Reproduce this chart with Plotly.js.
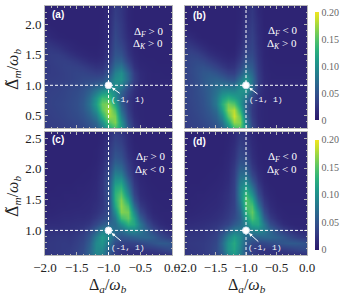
<!DOCTYPE html>
<html><head><meta charset="utf-8">
<script src="https://cdn.plot.ly/plotly-3.0.1.min.js"></script>
<style>html,body{margin:0;padding:0;background:#fff}#chart{width:348px;height:302px}</style>
</head><body><div id="chart"></div>
<script>
// grid coordinates
const xGrid = [-2.0,-1.9,-1.8,-1.7,-1.6,-1.5,-1.4,-1.3,-1.2,-1.1,-1.0,-0.9,-0.8,-0.7,-0.6,-0.5,-0.4,-0.3,-0.2,-0.1,0.0];
const yGridTop = [0.3,0.4,0.5,0.6,0.7,0.8,0.9,1.0,1.1,1.2,1.3,1.4,1.5,1.6,1.7,1.8,1.9,2.0,2.1,2.2,2.3];
const yGridBottom = [0.6,0.7,0.8,0.9,1.0,1.1,1.2,1.3,1.4,1.5,1.6,1.7,1.8,1.9,2.0,2.1,2.2,2.3,2.4,2.5,2.6];

// tick labels
const xTickVals = [-2,-1.5,-1,-0.5,0];
const xTickText = ['\u22122.0','\u22121.5','\u22121.0','\u22120.5','0.0'];
const yTickValsTop = [0.5,1.0,1.5,2.0];
const yTickTextTop = ['0.5','1.0','1.5','2.0'];
const yTickValsBottom = [1.0,1.5,2.0,2.5];
const yTickTextBottom = ['1.0','1.5','2.0','2.5'];
const cbTickVals = [0,0.05,0.10,0.15,0.20];
const cbTickText = ['0','0.05','0.10','0.15','0.20'];

// special point
const pointX = [-1];
const pointY = [1];

// panel (a): rows y = 0.3 ... 2.3
const zA = [
[.030,.031,.032,.033,.035,.037,.040,.046,.056,.078,.120,.145,.110,.055,.026,.016,.013,.012,.012,.012,.012],
[.031,.032,.033,.035,.037,.040,.044,.052,.066,.100,.150,.165,.105,.046,.021,.014,.012,.012,.012,.012,.012],
[.032,.033,.035,.037,.040,.043,.049,.060,.082,.128,.175,.162,.088,.037,.018,.013,.012,.012,.012,.012,.012],
[.033,.034,.036,.038,.041,.045,.053,.068,.100,.150,.180,.145,.072,.031,.016,.013,.012,.012,.012,.012,.012],
[.034,.035,.037,.039,.042,.046,.055,.074,.112,.158,.165,.120,.060,.028,.016,.013,.012,.012,.012,.012,.012],
[.034,.035,.036,.038,.041,.045,.053,.070,.105,.140,.138,.100,.056,.028,.017,.013,.012,.012,.012,.012,.012],
[.033,.034,.035,.037,.040,.043,.049,.060,.080,.100,.112,.095,.066,.036,.020,.014,.012,.012,.012,.012,.012],
[.032,.033,.034,.036,.038,.040,.044,.050,.058,.068,.085,.098,.088,.052,.026,.016,.013,.012,.012,.012,.012],
[.031,.031,.032,.033,.035,.038,.041,.042,.043,.047,.068,.098,.105,.068,.032,.018,.013,.012,.012,.012,.012],
[.029,.030,.031,.033,.035,.037,.037,.035,.032,.033,.052,.088,.100,.064,.030,.017,.013,.012,.012,.011,.011],
[.028,.030,.032,.034,.035,.034,.031,.027,.023,.024,.040,.072,.080,.048,.022,.014,.012,.011,.011,.011,.011],
[.028,.031,.033,.033,.031,.027,.022,.018,.016,.018,.031,.060,.062,.034,.018,.012,.011,.011,.010,.010,.010],
[.029,.031,.031,.028,.023,.018,.015,.013,.012,.014,.026,.052,.050,.026,.015,.011,.010,.010,.010,.010,.010],
[.029,.028,.025,.020,.016,.013,.012,.011,.011,.013,.023,.047,.042,.022,.013,.010,.010,.010,.010,.010,.010],
[.026,.022,.018,.015,.013,.011,.010,.010,.010,.012,.021,.044,.036,.020,.012,.010,.010,.010,.010,.010,.010],
[.020,.015,.012,.011,.010,.010,.010,.010,.010,.011,.019,.041,.031,.017,.011,.010,.010,.010,.010,.010,.010],
[.015,.012,.010,.010,.010,.010,.010,.010,.010,.011,.018,.038,.029,.015,.010,.010,.010,.010,.010,.010,.010],
[.012,.010,.010,.010,.010,.010,.010,.010,.010,.011,.017,.036,.028,.014,.010,.010,.010,.010,.010,.010,.010],
[.010,.010,.010,.010,.010,.010,.010,.010,.010,.010,.018,.033,.026,.013,.010,.010,.010,.010,.010,.010,.010],
[.010,.010,.010,.010,.010,.010,.010,.010,.010,.010,.016,.031,.025,.013,.010,.010,.010,.010,.010,.010,.010],
[.010,.010,.010,.010,.010,.010,.010,.010,.010,.010,.015,.030,.025,.013,.010,.010,.010,.010,.010,.010,.010]
];

// panel (b): rows y = 0.3 ... 2.3
const zB = [
[.031,.033,.035,.038,.042,.048,.062,.095,.140,.150,.095,.042,.020,.014,.012,.012,.012,.012,.012,.012,.012],
[.032,.035,.037,.041,.046,.055,.075,.122,.172,.165,.085,.035,.017,.013,.012,.012,.012,.012,.012,.012,.012],
[.033,.036,.039,.044,.050,.062,.092,.150,.188,.155,.070,.030,.016,.013,.012,.012,.012,.012,.012,.012,.012],
[.034,.037,.041,.046,.054,.070,.112,.168,.182,.130,.060,.028,.016,.013,.012,.012,.012,.012,.012,.012,.012],
[.035,.038,.042,.048,.058,.080,.125,.160,.150,.108,.062,.030,.017,.013,.012,.012,.012,.012,.012,.012,.012],
[.036,.039,.043,.049,.060,.080,.112,.128,.118,.102,.077,.042,.020,.014,.012,.012,.012,.012,.012,.012,.012],
[.036,.039,.044,.051,.060,.074,.090,.094,.092,.102,.102,.060,.025,.015,.012,.012,.012,.012,.012,.012,.012],
[.036,.040,.045,.053,.061,.069,.074,.072,.072,.097,.117,.075,.030,.016,.012,.012,.012,.012,.012,.012,.012],
[.036,.040,.046,.054,.060,.062,.058,.050,.050,.076,.106,.075,.032,.016,.012,.012,.012,.012,.012,.012,.012],
[.036,.041,.047,.053,.055,.050,.042,.034,.034,.055,.085,.065,.030,.015,.012,.011,.011,.011,.011,.011,.011],
[.036,.041,.046,.048,.044,.036,.028,.022,.024,.040,.065,.055,.027,.014,.011,.011,.011,.011,.011,.011,.011],
[.036,.040,.042,.039,.032,.025,.019,.016,.018,.030,.052,.048,.025,.013,.011,.010,.010,.010,.010,.010,.010],
[.035,.037,.035,.029,.022,.017,.014,.012,.013,.024,.042,.042,.023,.012,.010,.010,.010,.010,.010,.010,.010],
[.032,.031,.026,.020,.015,.012,.011,.010,.011,.020,.035,.038,.022,.012,.010,.010,.010,.010,.010,.010,.010],
[.027,.023,.018,.014,.011,.010,.010,.010,.010,.017,.031,.036,.020,.011,.010,.010,.010,.010,.010,.010,.010],
[.020,.016,.012,.010,.010,.010,.010,.010,.010,.015,.028,.034,.020,.011,.010,.010,.010,.010,.010,.010,.010],
[.014,.011,.010,.010,.010,.010,.010,.010,.010,.014,.026,.032,.018,.011,.010,.010,.010,.010,.010,.010,.010],
[.011,.010,.010,.010,.010,.010,.010,.010,.010,.013,.024,.030,.018,.010,.010,.010,.010,.010,.010,.010,.010],
[.010,.010,.010,.010,.010,.010,.010,.010,.010,.012,.022,.028,.017,.010,.010,.010,.010,.010,.010,.010,.010],
[.010,.010,.010,.010,.010,.010,.010,.010,.010,.012,.020,.027,.015,.010,.010,.010,.010,.010,.010,.010,.010],
[.010,.010,.010,.010,.010,.010,.010,.010,.010,.011,.020,.025,.015,.010,.010,.010,.010,.010,.010,.010,.010]
];

// panel (c): rows y = 0.6 ... 2.6
const zC = [
[.025,.026,.027,.028,.030,.036,.045,.062,.090,.085,.050,.030,.022,.020,.019,.018,.018,.018,.019,.020,.022],
[.026,.027,.028,.029,.030,.035,.043,.062,.095,.095,.060,.035,.027,.025,.025,.026,.028,.030,.034,.040,.045],
[.026,.027,.028,.029,.028,.033,.040,.058,.095,.105,.075,.045,.035,.035,.037,.040,.045,.050,.055,.055,.050],
[.025,.026,.027,.027,.026,.030,.036,.050,.085,.110,.090,.060,.050,.055,.060,.065,.065,.058,.045,.035,.028],
[.022,.022,.022,.022,.022,.024,.028,.038,.060,.085,.090,.070,.070,.090,.095,.080,.060,.040,.028,.020,.016],
[.018,.018,.018,.019,.020,.021,.022,.026,.040,.055,.065,.070,.100,.130,.120,.080,.045,.027,.018,.014,.013],
[.015,.015,.016,.017,.017,.018,.018,.020,.028,.038,.050,.080,.140,.155,.115,.060,.030,.018,.014,.012,.012],
[.013,.013,.014,.015,.015,.016,.016,.017,.022,.030,.045,.100,.165,.160,.095,.042,.022,.014,.012,.012,.012],
[.012,.012,.013,.013,.014,.014,.015,.016,.020,.026,.045,.120,.170,.145,.070,.030,.018,.013,.012,.011,.011],
[.011,.012,.012,.012,.013,.013,.014,.015,.018,.025,.048,.130,.165,.120,.050,.022,.015,.012,.011,.011,.011],
[.011,.011,.011,.012,.012,.012,.013,.014,.017,.025,.050,.130,.150,.095,.038,.018,.013,.011,.011,.011,.011],
[.010,.010,.011,.011,.011,.012,.012,.013,.016,.025,.052,.120,.130,.075,.030,.016,.012,.011,.010,.010,.010],
[.010,.010,.010,.010,.010,.011,.011,.012,.015,.024,.050,.105,.110,.060,.025,.014,.011,.010,.010,.010,.010],
[.010,.010,.010,.010,.010,.010,.011,.011,.014,.022,.045,.090,.088,.045,.020,.013,.011,.010,.010,.010,.010],
[.010,.010,.010,.010,.010,.010,.010,.011,.013,.020,.040,.075,.070,.036,.018,.012,.010,.010,.010,.010,.010],
[.010,.010,.010,.010,.010,.010,.010,.010,.012,.018,.035,.062,.057,.030,.016,.011,.010,.010,.010,.010,.010],
[.010,.010,.010,.010,.010,.010,.010,.010,.011,.016,.030,.052,.047,.024,.014,.010,.010,.010,.010,.010,.010],
[.010,.010,.010,.010,.010,.010,.010,.010,.011,.015,.028,.045,.040,.020,.012,.010,.010,.010,.010,.010,.010],
[.010,.010,.010,.010,.010,.010,.010,.010,.010,.013,.025,.040,.034,.018,.011,.010,.010,.010,.010,.010,.010],
[.010,.010,.010,.010,.010,.010,.010,.010,.010,.012,.022,.035,.030,.017,.010,.010,.010,.010,.010,.010,.010],
[.010,.010,.010,.010,.010,.010,.010,.010,.010,.012,.020,.030,.025,.015,.010,.010,.010,.010,.010,.010,.010]
];

// panel (d): rows y = 0.6 ... 2.6
const zD = [
[.025,.025,.026,.028,.031,.038,.055,.090,.110,.085,.050,.032,.024,.021,.020,.019,.018,.018,.018,.019,.020],
[.025,.026,.027,.029,.033,.042,.065,.105,.118,.090,.050,.032,.027,.026,.026,.028,.030,.033,.037,.040,.042],
[.026,.027,.028,.029,.032,.040,.068,.105,.122,.095,.058,.042,.038,.040,.044,.048,.052,.055,.055,.052,.048],
[.025,.026,.026,.027,.030,.036,.058,.090,.112,.095,.068,.060,.062,.066,.066,.060,.052,.042,.034,.028,.024],
[.022,.022,.023,.024,.026,.030,.042,.060,.080,.082,.080,.090,.095,.085,.065,.045,.032,.024,.018,.015,.014],
[.018,.018,.019,.020,.022,.025,.030,.038,.055,.068,.090,.120,.120,.080,.045,.028,.018,.014,.012,.012,.012],
[.015,.015,.016,.017,.018,.020,.024,.030,.042,.060,.110,.145,.120,.060,.030,.018,.013,.012,.012,.012,.012],
[.013,.013,.014,.015,.016,.018,.021,.027,.037,.065,.130,.155,.105,.045,.022,.014,.012,.011,.011,.011,.011],
[.012,.012,.013,.014,.015,.016,.019,.025,.035,.075,.145,.145,.080,.033,.018,.012,.011,.011,.011,.011,.011],
[.011,.012,.012,.013,.014,.015,.018,.023,.034,.085,.150,.125,.060,.026,.015,.011,.010,.010,.010,.010,.010],
[.011,.011,.012,.012,.013,.014,.017,.022,.034,.090,.138,.100,.045,.020,.013,.010,.010,.010,.010,.010,.010],
[.010,.011,.011,.011,.012,.013,.015,.020,.033,.088,.115,.075,.033,.016,.011,.010,.010,.010,.010,.010,.010],
[.010,.010,.010,.011,.011,.012,.014,.018,.032,.080,.095,.055,.025,.013,.010,.010,.010,.010,.010,.010,.010],
[.010,.010,.010,.010,.011,.011,.013,.017,.030,.070,.075,.040,.020,.012,.010,.010,.010,.010,.010,.010,.010],
[.010,.010,.010,.010,.010,.011,.012,.016,.028,.060,.060,.030,.016,.011,.010,.010,.010,.010,.010,.010,.010],
[.010,.010,.010,.010,.010,.010,.011,.015,.025,.050,.048,.024,.013,.010,.010,.010,.010,.010,.010,.010,.010],
[.010,.010,.010,.010,.010,.010,.011,.014,.022,.042,.040,.020,.012,.010,.010,.010,.010,.010,.010,.010,.010],
[.010,.010,.010,.010,.010,.010,.010,.013,.020,.037,.033,.018,.011,.010,.010,.010,.010,.010,.010,.010,.010],
[.010,.010,.010,.010,.010,.010,.010,.012,.018,.032,.028,.016,.011,.010,.010,.010,.010,.010,.010,.010,.010],
[.010,.010,.010,.010,.010,.010,.010,.011,.016,.028,.025,.015,.010,.010,.010,.010,.010,.010,.010,.010,.010],
[.010,.010,.010,.010,.010,.010,.010,.011,.015,.025,.022,.014,.010,.010,.010,.010,.010,.010,.010,.010,.010]
];

const panelLabels = ['(a)','(b)','(c)','(d)'];
const signF = ['> 0','< 0','> 0','< 0'];
const signK = ['> 0','> 0','< 0','< 0'];
const pointLabel = '(-1, 1)';

// viridis-like colour scale with a navy low end, as in the reference
const colorScale = [
  [0.00,'#2a1a6b'],[0.08,'#302a79'],[0.16,'#343e85'],[0.25,'#31538c'],[0.35,'#2a6b8e'],
  [0.45,'#23838d'],[0.55,'#1f9a89'],[0.65,'#2cb17b'],[0.75,'#55c467'],[0.85,'#8fd448'],
  [0.93,'#c6df2e'],[1.00,'#f1e51f']
];

const W = 348, H = 302;
function dx(a,b){return [a/W, b/W];}
function dy(top,bottom){return [1-bottom/H, 1-top/H];}

const frameCol = '#b8b8b8';
const tickFont = {family:'Liberation Serif, DejaVu Serif, serif', size:13, color:'#222'};
function xax(domain, showLabels){
  return {domain:domain, range:[-2,0], showgrid:false, zeroline:false,
    showline:true, linecolor:frameCol, linewidth:1, mirror:'allticks',
    ticks:'inside', ticklen:3, tickcolor:frameCol, tickvals:xTickVals, ticktext:xTickText,
    showticklabels:showLabels, tickfont:tickFont,
    minor:{ticks:'inside', ticklen:1.5, tickcolor:frameCol, dtick:0.1}};
}
function yax(domain, range, tv, tt, showLabels){
  return {domain:domain, range:range, showgrid:false, zeroline:false,
    showline:true, linecolor:frameCol, linewidth:1, mirror:'allticks',
    ticks:'inside', ticklen:3, tickcolor:frameCol, tickvals:tv, ticktext:tt,
    showticklabels:showLabels, tickfont:tickFont,
    minor:{ticks:'inside', ticklen:1.5, tickcolor:frameCol, dtick:0.1}};
}

const xdomL = dx(45,172), xdomR = dx(185,307);
const ydomT = dy(6,128), ydomB = dy(132,255);

const data = [];
const zs = [zA,zB,zC,zD];
const axIds = [['x','y'],['x2','y2'],['x3','y3'],['x4','y4']];
const ygrids = [yGridTop,yGridTop,yGridBottom,yGridBottom];
for(let k=0;k<4;k++){
  data.push({type:'heatmap', x:xGrid, y:ygrids[k], z:zs[k], zsmooth:'best',
    xaxis:axIds[k][0], yaxis:axIds[k][1], coloraxis: k<2?'coloraxis':'coloraxis2', hoverinfo:'skip'});
}
for(let k=0;k<4;k++){
  data.push({type:'scatter', mode:'markers', x:pointX, y:pointY, xaxis:axIds[k][0], yaxis:axIds[k][1],
    marker:{size:7, color:'#ffffff', line:{color:'#cfe0f0', width:1}}, showlegend:false, hoverinfo:'skip'});
}

const shapes = [];
for(let k=0;k<4;k++){
  const xr = axIds[k][0], yr = axIds[k][1];
  shapes.push({type:'line', xref:xr, yref:yr+' domain', x0:-1, x1:-1, y0:0, y1:1, line:{color:'#ffffff', width:1, dash:'3px,2px'}});
  shapes.push({type:'line', xref:xr+' domain', yref:yr, x0:0, x1:1, y0:1, y1:1, line:{color:'#ffffff', width:1, dash:'3px,2px'}});
}

const annotations = [];
const labPos = [[0.04,0.93],[0.05,0.92],[0.04,0.94],[0.05,0.92]];
const fPos = [[0.945,0.787,0.689],[0.934,0.795,0.689],[0.96,0.797,0.69],[0.934,0.797,0.69]];
const arrowTxt = [[-0.69,0.77],[-0.68,0.76],[-0.69,0.73],[-0.69,0.72]];
const whiteSerif = {family:'Liberation Serif, DejaVu Serif, serif', size:11, color:'#ffffff'};
for(let k=0;k<4;k++){
  const xr = axIds[k][0], yr = axIds[k][1];
  annotations.push({xref:xr+' domain', yref:yr+' domain', x:labPos[k][0], y:labPos[k][1], xanchor:'left', yanchor:'middle',
    text:'<b>'+panelLabels[k]+'</b>', showarrow:false, font:{family:'Liberation Sans, Arial, sans-serif', size:10, color:'#ffffff'}});
  annotations.push({xref:xr+' domain', yref:yr+' domain', x:fPos[k][0], y:fPos[k][1], xanchor:'right', yanchor:'middle',
    text:'\u0394<sub><i>F</i></sub> '+signF[k], showarrow:false, font:whiteSerif});
  annotations.push({xref:xr+' domain', yref:yr+' domain', x:fPos[k][0], y:fPos[k][2], xanchor:'right', yanchor:'middle',
    text:'\u0394<sub><i>K</i></sub> '+signK[k], showarrow:false, font:whiteSerif});
  annotations.push({xref:xr, yref:yr, x:pointX[0], y:pointY[0], axref:xr, ayref:yr, ax:arrowTxt[k][0], ay:arrowTxt[k][1],
    text:pointLabel, showarrow:true, arrowhead:2, arrowsize:0.7, arrowwidth:1, arrowcolor:'#ffffff', standoff:4,
    font:{family:'Liberation Mono, DejaVu Sans Mono, monospace', size:8, color:'#ffffff'}});
}
// axis titles
const yTitleFont = {family:'Liberation Serif, DejaVu Serif, serif', size:16, color:'#222'};
const xTitleFont = {family:'Liberation Serif, DejaVu Serif, serif', size:16, color:'#222'};
const yTitle = '<span style="font-family:DejaVu Serif">\u0394\u0303</span><sub><i>m</i></sub>/<i>\u03c9</i><sub><i>b</i></sub>';
const xTitle = '\u0394<sub><i>a</i></sub>/<i>\u03c9</i><sub><i>b</i></sub>';
annotations.push({xref:'paper', yref:'paper', x:13/W, y:1-70/H, text:yTitle, textangle:-90, showarrow:false, font:yTitleFont, xanchor:'center', yanchor:'middle'});
annotations.push({xref:'paper', yref:'paper', x:13/W, y:1-197/H, text:yTitle, textangle:-90, showarrow:false, font:yTitleFont, xanchor:'center', yanchor:'middle'});
annotations.push({xref:'paper', yref:'paper', x:108/W, y:1-285/H, text:xTitle, showarrow:false, font:xTitleFont, xanchor:'center', yanchor:'middle'});
annotations.push({xref:'paper', yref:'paper', x:247/W, y:1-285/H, text:xTitle, showarrow:false, font:xTitleFont, xanchor:'center', yanchor:'middle'});

const cbFont = {family:'Liberation Serif, DejaVu Serif, serif', size:10, color:'#666'};
function cb(yc, len){
  return {x:315/W, xanchor:'left', xpad:0, ypad:0, y:yc, yanchor:'middle', len:len, lenmode:'fraction',
    thickness:4, outlinewidth:0, tickvals:cbTickVals, ticktext:cbTickText, tickfont:cbFont, ticks:'', ticklabelposition:'outside'};
}

const layout = {
  width:W, height:H, margin:{l:0,r:0,t:0,b:0}, paper_bgcolor:'#ffffff', plot_bgcolor:'#ffffff', showlegend:false,
  xaxis:xax(xdomL,false), yaxis:yax(ydomT,[0.3,2.3],yTickValsTop,yTickTextTop,true),
  xaxis2:xax(xdomR,false), yaxis2:yax(ydomT,[0.3,2.3],yTickValsTop,yTickTextTop,false),
  xaxis3:xax(xdomL,true), yaxis3:yax(ydomB,[0.6,2.6],yTickValsBottom,yTickTextBottom,true),
  xaxis4:xax(xdomR,true), yaxis4:yax(ydomB,[0.6,2.6],yTickValsBottom,yTickTextBottom,false),
  coloraxis:{colorscale:colorScale, cmin:0, cmax:0.2, colorbar:cb(1-66.5/H, 108/H)},
  coloraxis2:{colorscale:colorScale, cmin:0, cmax:0.2, colorbar:cb(1-194.5/H, 110/H)},
  shapes:shapes, annotations:annotations
};
layout.xaxis.anchor='y'; layout.yaxis.anchor='x';
layout.xaxis2.anchor='y2'; layout.yaxis2.anchor='x2';
layout.xaxis3.anchor='y3'; layout.yaxis3.anchor='x3';
layout.xaxis4.anchor='y4'; layout.yaxis4.anchor='x4';

Plotly.newPlot('chart', data, layout, {staticPlot:true, displayModeBar:false});
</script></body></html>
